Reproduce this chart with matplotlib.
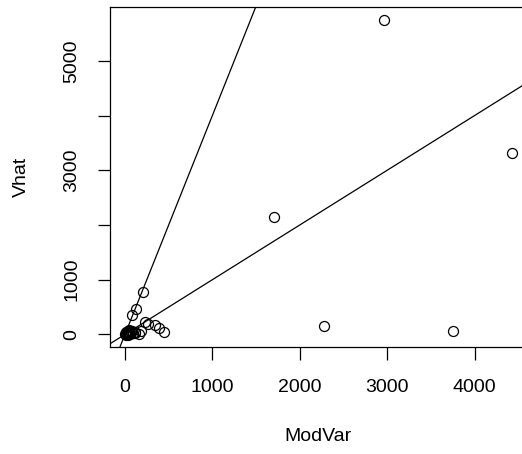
import matplotlib
matplotlib.use("Agg")
import matplotlib.pyplot as plt

plt.rcParams['font.family'] = ['Liberation Sans', 'DejaVu Sans']

# ModVar vs Vhat
mod_var = [2962, 4425, 1709, 2280, 3751, 204, 128, 86, 226, 269, 341, 391, 444, 158,
           5, 10, 15, 20, 30, 35, 45, 50, 60, 70, 80, 95, 110, 120, 178, 25, 40, 8]
vhat = [5748, 3308, 2153, 159, 55, 772, 456, 347, 219, 195, 170, 109, 42, 13,
        5, 20, -5, 40, 10, 60, 30, 80, 15, 50, 70, 30, 40, 35, 60, 0, -10, 45]

x_ticks = [0, 1000, 2000, 3000, 4000]
y_ticks = [0, 1000, 2000, 3000, 4000, 5000]
y_labels = ['0', '1000', '', '3000', '', '5000']
line_slopes = [1, 4]

fig = plt.figure(figsize=(5.22, 4.54), dpi=100)
ax = fig.add_axes([109.5 / 522, 1 - 347 / 454, (526.7 - 109.5) / 522, (347 - 6.7) / 454])

ax.plot(mod_var, vhat, 'o', mfc='none', mec='black', ms=7.2, mew=0.9, ls='none')

xlim = (-177, 4597)
ylim = (-230, 5990)
for s in line_slopes:
    ax.plot(xlim, [s * xlim[0], s * xlim[1]], color='black', lw=0.9)

ax.set_xlim(xlim)
ax.set_ylim(ylim)
ax.set_xticks(x_ticks)
ax.set_xticklabels([str(t) for t in x_ticks])
ax.set_yticks(y_ticks)
ax.set_yticklabels(y_labels, rotation=90, va='center')
ax.tick_params(direction='out', length=9, width=0.9, labelsize=14)
ax.tick_params(axis='x', pad=14)
ax.tick_params(axis='y', pad=12)
for sp in ax.spines.values():
    sp.set_linewidth(0.9)

fig.text(318 / 522, 1 - 436.7 / 454, 'ModVar', ha='center', va='center', fontsize=14)
fig.text(21.7 / 522, 1 - 177 / 454, 'Vhat', ha='center', va='center', fontsize=14, rotation=90)

fig.savefig('out.png', dpi=100)
